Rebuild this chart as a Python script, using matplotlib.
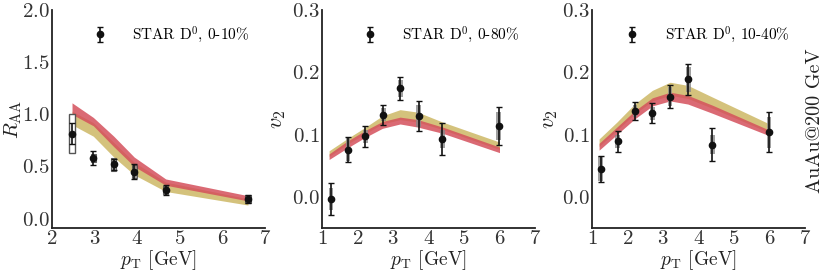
import matplotlib
matplotlib.use("Agg")
import matplotlib.pyplot as plt
import numpy as np

plt.rcParams["font.family"] = "serif"
plt.rcParams["font.serif"] = ["cmr10"]
plt.rcParams["mathtext.fontset"] = "cm"
plt.rcParams["axes.formatter.use_mathtext"] = True

# --- R_AA, 0-10% ---
raa_pt = [2.47, 2.97, 3.45, 3.93, 4.67, 6.60]
raa_val = [0.815, 0.58, 0.52, 0.45, 0.275, 0.19]
raa_stat = [0.10, 0.065, 0.05, 0.07, 0.05, 0.04]
raa_sys = [0.19, 0.035, 0.065, 0.06, 0.04, 0.04]
raa_red_lo = [1.00, 0.89, 0.69, 0.50, 0.32, 0.17]
raa_red_hi = [1.11, 0.97, 0.79, 0.59, 0.38, 0.22]
raa_yel_lo = [0.90, 0.79, 0.59, 0.42, 0.26, 0.13]
raa_yel_hi = [1.03, 0.92, 0.73, 0.54, 0.35, 0.19]

# --- v2, 0-80% ---
v2a_pt = [1.25, 1.73, 2.22, 2.73, 3.21, 3.72, 4.39, 5.98]
v2a_val = [-0.003, 0.076, 0.097, 0.132, 0.174, 0.130, 0.093, 0.114]
v2a_stat = [0.026, 0.020, 0.017, 0.016, 0.019, 0.024, 0.025, 0.030]
v2a_sys = [0.018, 0.019, 0.010, 0.010, 0.013, 0.018, 0.015, 0.022]
v2a_band_pt = [1.2, 1.7, 2.2, 2.7, 3.2, 3.7, 4.4, 6.0]
v2a_red_lo = [0.060, 0.078, 0.095, 0.110, 0.117, 0.112, 0.102, 0.071]
v2a_red_hi = [0.069, 0.089, 0.106, 0.121, 0.128, 0.124, 0.112, 0.080]
v2a_yel_lo = [0.065, 0.084, 0.101, 0.117, 0.124, 0.120, 0.108, 0.076]
v2a_yel_hi = [0.074, 0.093, 0.111, 0.130, 0.140, 0.136, 0.120, 0.088]

# --- v2, 10-40% ---
v2b_pt = [1.24, 1.72, 2.21, 2.70, 3.20, 3.71, 4.39, 5.99]
v2b_val = [0.045, 0.089, 0.138, 0.134, 0.161, 0.189, 0.084, 0.104]
v2b_stat = [0.021, 0.017, 0.015, 0.016, 0.019, 0.025, 0.026, 0.032]
v2b_sys = [0.020, 0.010, 0.010, 0.010, 0.015, 0.020, 0.015, 0.025]
v2b_band_pt = [1.2, 1.7, 2.2, 2.7, 3.2, 3.7, 4.4, 6.0]
v2b_red_lo = [0.075, 0.100, 0.125, 0.146, 0.154, 0.149, 0.134, 0.098]
v2b_red_hi = [0.086, 0.112, 0.138, 0.159, 0.168, 0.163, 0.147, 0.107]
v2b_yel_lo = [0.081, 0.107, 0.133, 0.154, 0.163, 0.158, 0.142, 0.103]
v2b_yel_hi = [0.093, 0.120, 0.149, 0.171, 0.184, 0.179, 0.160, 0.117]

RED = "#d4505c"
YEL = "#cdb865"

fig = plt.figure(figsize=(8.3, 2.77), dpi=100)
lefts = [52 / 830, 322 / 830, 592 / 830]
axes = [fig.add_axes([l, 49 / 277, 213 / 830, 218 / 277]) for l in lefts]


def draw_panel(ax, pt, val, stat, sys, bpt, rlo, rhi, ylo, yhi, label, box_w, hollow_first=False):
    ax.fill_between(bpt, ylo, yhi, color=YEL, alpha=0.85, lw=0)
    ax.fill_between(bpt, rlo, rhi, color=RED, alpha=0.85, lw=0)
    pt = np.array(pt); val = np.array(val); sys = np.array(sys)
    for i in range(len(pt)):
        if hollow_first and i == 0:
            ax.bar(pt[i], 2 * sys[i], bottom=val[i] - sys[i], width=box_w,
                   facecolor="white", edgecolor="#555555", lw=1.0, zorder=3)
        else:
            ax.bar(pt[i], 2 * sys[i], bottom=val[i] - sys[i], width=box_w,
                   facecolor="#888888", edgecolor="#444444" if hollow_first else "none",
                   alpha=0.8, lw=0.8, zorder=3)
    ax.errorbar(pt, val, yerr=stat, fmt="o", color="#111111", ms=4.5, capsize=2,
                elinewidth=1.2, capthick=1.0, zorder=4, label=label)
    ax.legend(loc="center right", bbox_to_anchor=(0.955, 0.885), frameon=False,
              fontsize=11, handletextpad=1.6, handlelength=1.0, borderaxespad=0)
    for s in ["top", "right"]:
        ax.spines[s].set_visible(False)
    for s in ["left", "bottom"]:
        ax.spines[s].set_linewidth(1.3)
        ax.spines[s].set_color("#222222")
    ax.tick_params(length=0, labelsize=15, colors="#333333", pad=1.5)
    ax.set_xlabel(r"$p_{\rm T}$ [GeV]", fontsize=14, color="#222222", labelpad=0)


draw_panel(axes[0], raa_pt, raa_val, raa_stat, raa_sys, raa_pt, raa_red_lo, raa_red_hi,
           raa_yel_lo, raa_yel_hi, r"STAR D$^0$, 0-10%", 0.12, hollow_first=True)
axes[0].set_xlim(2, 7)
axes[0].set_ylim(-0.09, 2.0)
axes[0].set_xticks([2, 3, 4, 5, 6, 7])
axes[0].set_yticks([0.0, 0.5, 1.0, 1.5, 2.0])
axes[0].set_ylabel(r"$R_{\rm AA}$", fontsize=15, color="#222222")
axes[0].yaxis.set_label_coords(-0.13, 0.5)

draw_panel(axes[1], v2a_pt, v2a_val, v2a_stat, v2a_sys, v2a_band_pt, v2a_red_lo, v2a_red_hi,
           v2a_yel_lo, v2a_yel_hi, r"STAR D$^0$, 0-80%", 0.13)
draw_panel(axes[2], v2b_pt, v2b_val, v2b_stat, v2b_sys, v2b_band_pt, v2b_red_lo, v2b_red_hi,
           v2b_yel_lo, v2b_yel_hi, r"STAR D$^0$, 10-40%", 0.13)
for ax, lx in zip(axes[1:], [-0.16, -0.15]):
    ax.set_xlim(1, 7)
    ax.set_ylim(-0.05, 0.3)
    ax.set_xticks([1, 2, 3, 4, 5, 6, 7])
    ax.set_yticks([0.0, 0.1, 0.2, 0.3])
    ax.set_ylabel(r"$v_2$", fontsize=16, color="#222222")
    ax.yaxis.set_label_coords(lx, 0.5)

fig.text(0.982, 0.565, "AuAu@200 GeV", rotation=90, ha="center", va="center",
         fontsize=14.5, color="#222222")

fig.savefig("out.png", dpi=100)
